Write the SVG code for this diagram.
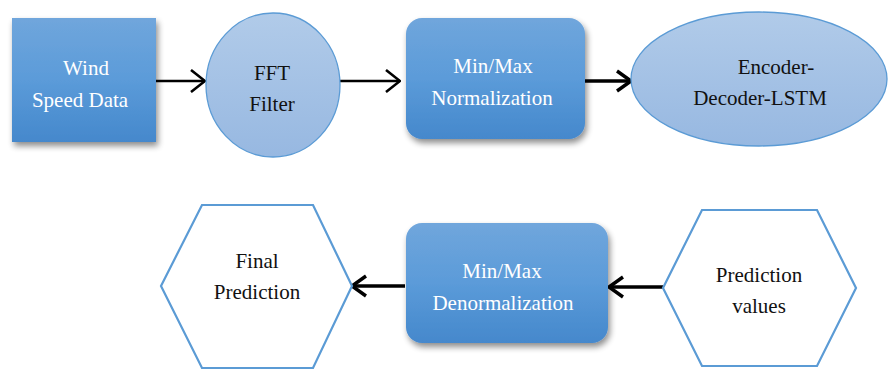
<svg xmlns="http://www.w3.org/2000/svg" width="888" height="377" viewBox="0 0 888 377">
  <defs>
    <linearGradient id="boxFill" x1="0" y1="0" x2="0" y2="1">
      <stop offset="0" stop-color="#70a6dc"/>
      <stop offset="0.5" stop-color="#5b9bd9"/>
      <stop offset="1" stop-color="#4588cc"/>
    </linearGradient>
    <linearGradient id="ovalFill" x1="0" y1="0" x2="0" y2="1">
      <stop offset="0" stop-color="#b1cbe9"/>
      <stop offset="1" stop-color="#97b8e1"/>
    </linearGradient>
    <filter id="shadow" x="-20%" y="-20%" width="140%" height="150%">
      <feGaussianBlur in="SourceAlpha" stdDeviation="3"/>
      <feOffset dx="2" dy="4" result="b"/>
      <feComponentTransfer><feFuncA type="linear" slope="0.45"/></feComponentTransfer>
      <feMerge><feMergeNode/><feMergeNode in="SourceGraphic"/></feMerge>
    </filter>
    <marker id="chev" viewBox="0 0 16 24" refX="15" refY="12" markerUnits="userSpaceOnUse" markerWidth="16" markerHeight="24" orient="auto">
      <path d="M1,1 L15,12 L1,23" fill="none" stroke="#000" stroke-width="2.6" stroke-linejoin="miter"/>
    </marker>
    <marker id="chevBold" viewBox="0 0 18 24" refX="16" refY="12" markerUnits="userSpaceOnUse" markerWidth="18" markerHeight="24" orient="auto">
      <path d="M2,2 L16,12 L2,22" fill="none" stroke="#000" stroke-width="3.4" stroke-linejoin="miter"/>
    </marker>
  </defs>
  <style>
    .lbl { font-size: 21px; text-anchor: middle; }
    .light { fill: #ffffff; }
    .dark { fill: #111111; }
    .box { fill: url(#boxFill); filter: url(#shadow); }
    .oval { fill: url(#ovalFill); stroke: #5b9bd5; stroke-width: 1.3; }
    .hex { fill: #ffffff; stroke: #5b9bd5; stroke-width: 2.2; }
    .link { fill: none; stroke: #000; stroke-width: 2.6; }
    .link.bold { stroke-width: 3.4; }
  </style>

  <rect width="888" height="377" fill="#ffffff"/>

  <g id="connectors">
    <line class="link" x1="156" y1="81" x2="205" y2="81" marker-end="url(#chev)"/>
    <line class="link" x1="340" y1="81" x2="400" y2="81" marker-end="url(#chev)"/>
    <line class="link bold" x1="585" y1="81" x2="631" y2="81" marker-end="url(#chevBold)"/>
    <line class="link bold" x1="663" y1="287" x2="609" y2="287" marker-end="url(#chevBold)"/>
    <line class="link bold" x1="405" y1="286" x2="352" y2="286" marker-end="url(#chevBold)"/>
  </g>

  <g font-family="'Liberation Serif', 'DejaVu Serif', serif">
    <g id="wind-speed-data">
      <rect class="box" x="12" y="18" width="144" height="124"/>
      <text class="lbl light" x="86" y="75">Wind</text>
      <text class="lbl light" x="80" y="107">Speed Data</text>
    </g>

    <g id="fft-filter">
      <ellipse class="oval" cx="273" cy="85" rx="67" ry="72"/>
      <text class="lbl dark" x="272" y="80">FFT</text>
      <text class="lbl dark" x="272" y="111">Filter</text>
    </g>

    <g id="min-max-normalization">
      <rect class="box" x="406" y="18" width="179" height="121" rx="16"/>
      <text class="lbl light" x="493" y="73">Min/Max</text>
      <text class="lbl light" x="492" y="105">Normalization</text>
    </g>

    <g id="encoder-decoder-lstm">
      <ellipse class="oval" cx="759" cy="79" rx="128" ry="67"/>
      <text class="lbl dark" x="776" y="74">Encoder-</text>
      <text class="lbl dark" x="760" y="105">Decoder-LSTM</text>
    </g>

    <g id="prediction-values">
      <polygon class="hex" points="663,288 702,210 817,210 856,288 817,366 702,366"/>
      <text class="lbl dark" x="759" y="282">Prediction</text>
      <text class="lbl dark" x="759" y="313">values</text>
    </g>

    <g id="min-max-denormalization">
      <rect class="box" x="406" y="223" width="202" height="120" rx="16"/>
      <text class="lbl light" x="502" y="278">Min/Max</text>
      <text class="lbl light" x="503" y="310">Denormalization</text>
    </g>

    <g id="final-prediction">
      <polygon class="hex" points="161,286 202,205 313,205 352,286 313,368 202,368"/>
      <text class="lbl dark" x="257" y="268">Final</text>
      <text class="lbl dark" x="257" y="299">Prediction</text>
    </g>
  </g>
</svg>
